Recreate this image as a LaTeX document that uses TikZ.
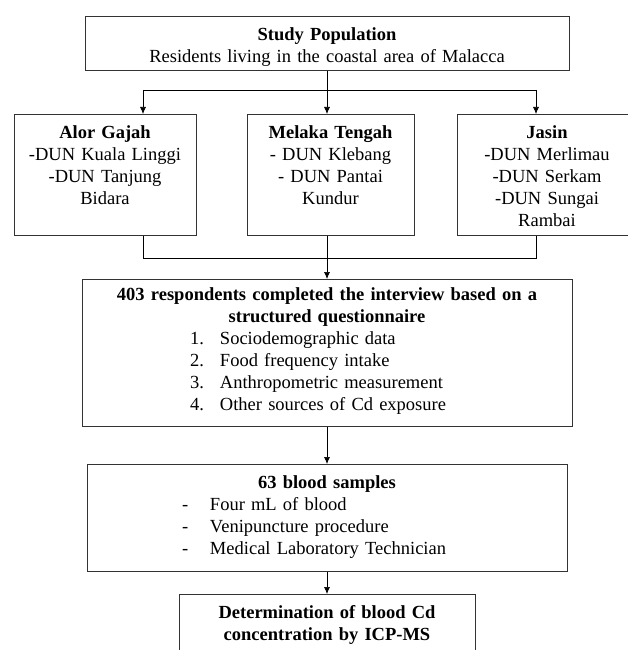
\documentclass[tikz,border=0pt]{standalone}
\usepackage{fontspec}
\setmainfont{Liberation Serif}
\usetikzlibrary{arrows.meta,calc}

\tikzset{
  stepbox/.style={draw=black!80, line width=0.9pt, align=center, inner sep=0pt, anchor=north},
  conn/.style={line width=0.7pt},
  arr/.style={conn, -{Latex[length=7pt,width=6pt]}},
}

\begin{document}
\begin{tikzpicture}[x=1pt, y=-1pt, font=\fontsize{18.5}{22}\selectfont]
        \useasboundingbox (0,0) rectangle (627,650);

        % study population
        \node[stepbox, text width=484pt, text height=24pt, text depth=30pt] (study) at (327,16)
            {\textbf{Study Population}\\Residents living in the coastal area of Malacca};

        % districts
        \node[stepbox, text width=182pt, text height=24pt, text depth=97pt] (alor) at (105,114)
            {\textbf{Alor Gajah}\\-DUN Kuala Linggi\\-DUN Tanjung\\Bidara};
        \node[stepbox, text width=167pt, text height=24pt, text depth=97pt] (melaka) at (330.5,114)
            {\textbf{Melaka Tengah}\\- DUN Klebang\\- DUN Pantai\\Kundur};
        \node[stepbox, text width=180pt, text height=24pt, text depth=97pt] (jasin) at (547,114)
            {\textbf{Jasin}\\-DUN Merlimau\\-DUN Serkam\\-DUN Sungai\\Rambai};

        % interview
        \node[stepbox, text width=490pt, text height=21pt, text depth=126pt] (survey) at (327,279)
            {\textbf{403 respondents completed the interview based on a}\\
             \textbf{structured questionnaire}\\
             \makebox[274pt][l]{\makebox[30pt][l]{1.}Sociodemographic data}\\
             \makebox[274pt][l]{\makebox[30pt][l]{2.}Food frequency intake}\\
             \makebox[274pt][l]{\makebox[30pt][l]{3.}Anthropometric measurement}\\
             \makebox[274pt][l]{\makebox[30pt][l]{4.}Other sources of Cd exposure}};

        % blood samples
        \node[stepbox, text width=480pt, text height=24pt, text depth=83pt] (blood) at (327,464)
            {\textbf{63 blood samples}\\
             \makebox[290pt][l]{\makebox[28pt][l]{-}Four mL of blood}\\
             \makebox[290pt][l]{\makebox[28pt][l]{-}Venipuncture procedure}\\
             \makebox[290pt][l]{\makebox[28pt][l]{-}Medical Laboratory Technician}};

        % analysis
        \node[stepbox, text width=296pt, text height=24pt, text depth=40pt] (icp) at (327,594)
            {\textbf{Determination of blood Cd}\\\textbf{concentration by ICP-MS}};

        % split to districts
        \coordinate (splitL) at (143,90);
        \coordinate (splitR) at (536,90);
        \draw[conn] (splitL) -- (splitR);
        \draw[arr] (study.south) -- (study.south |- melaka.north);
        \draw[arr] (splitL) -- (splitL |- alor.north);
        \draw[arr] (splitR) -- (splitR |- jasin.north);

        % join from districts
        \coordinate (joinL) at (143,258);
        \coordinate (joinR) at (536,258);
        \draw[conn] (joinL |- alor.south) -- (joinL) -- (joinR) -- (joinR |- jasin.south);
        \draw[arr] (survey.north |- melaka.south) -- (survey.north);

        % down the chain
        \draw[arr] (survey) -- (blood);
        \draw[arr] (blood) -- (icp);
\end{tikzpicture}
\end{document}
